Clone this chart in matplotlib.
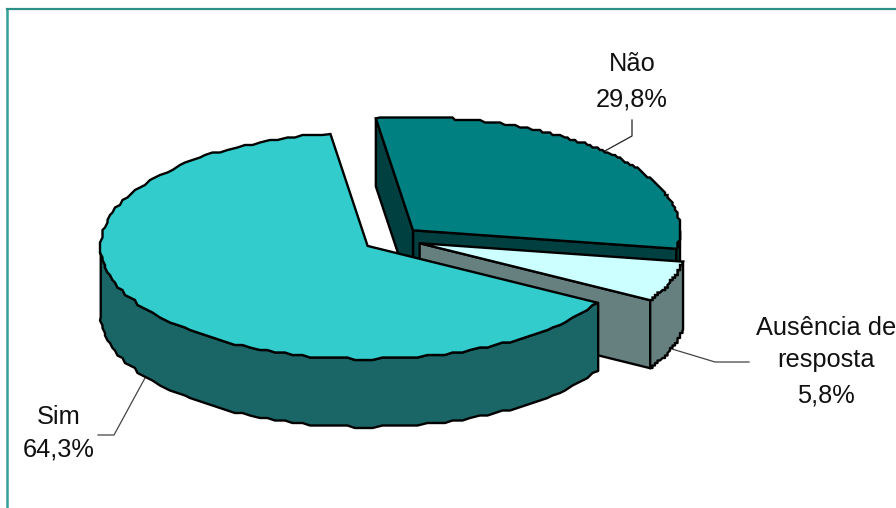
import numpy as np
import matplotlib
matplotlib.use('Agg')
import matplotlib.pyplot as plt

nomes = ['Sim', 'Ausência de\nresposta', 'Não']
valores = [64.3, 5.8, 29.8]
rotulos = ['64,3%', '5,8%', '29,8%']

cor_topo = ['#33CCCC', '#CCFFFF', '#008080']
cor_lado = ['#1A6666', '#668080', '#004040']
explode = [0.11, 0.11, 0.11]
# which cut faces can be seen (start edge, end edge)
cortes = [(False, False), (True, False), (True, True)]

# pie projection, in pixels
cx, cy = 392, 239
rx, ry = 267, 113
prof = 68
inicio = 98
degrau = 2.5

plt.rcParams['font.family'] = ['Liberation Sans', 'DejaVu Sans']

fig = plt.figure(figsize=(8.96, 5.08), dpi=100)
ax = fig.add_axes([0, 0, 1, 1])
ax.set_xlim(0, 896)
ax.set_ylim(508, 0)
ax.axis('off')

# frame
ax.plot([6.5, 6.5], [508, 8.5], color='#35A09A', lw=1.8, zorder=1)
ax.plot([6.5, 896], [8.5, 8.5], color='#2E8F88', lw=1.6, zorder=1)

# leader lines
ax.plot([632, 632, 603], [120, 136, 152], color='#222222', lw=0.9, zorder=1)
ax.plot([672, 715, 749], [349, 362, 362], color='#444444', lw=0.9, zorder=1)
ax.plot([145, 114, 98], [378, 435, 435], color='#444444', lw=0.9, zorder=1)


def ponto(c, a):
    return c[0] + rx*np.cos(np.radians(a)), c[1] - ry*np.sin(np.radians(a))


def arco(c, t):
    # the outline is stepped, snap the inner points
    px, py = ponto(c, t)
    px[1:-1] = np.round(px[1:-1]/degrau)*degrau
    py[1:-1] = np.round(py[1:-1]/degrau)*degrau
    return px, py


def parede(x, y, cor, z):
    # extrude a top outline downwards
    xs = np.concatenate([x, x[::-1]])
    ys = np.concatenate([y, y[::-1] + prof])
    ax.fill(xs, ys, facecolor=cor, edgecolor='black', lw=1.7, joinstyle='round', zorder=z)


total = sum(valores)
angulos = inicio + np.cumsum([0] + valores)*360/total
bissetriz = (angulos[:-1] + angulos[1:])/2

centros = []
for i in range(3):
    b = np.radians(bissetriz[i])
    centros.append((cx + explode[i]*rx*np.cos(b), cy - explode[i]*ry*np.sin(b)))

# back to front: Nao, Ausencia, Sim
for z, i in enumerate([2, 1, 0]):
    a0, a1 = angulos[i], angulos[i+1]
    c = centros[i]
    zz = 2 + z*3
    for a, visivel in zip([a0, a1], cortes[i]):
        if visivel:
            px, py = ponto(c, a)
            parede(np.array([c[0], px]), np.array([c[1], py]), cor_lado[i], zz)
    t = np.linspace(a0, a1, 120)
    t = t[np.sin(np.radians(t)) <= 0]
    if len(t):
        px, py = arco(c, t)
        parede(px, py, cor_lado[i], zz + 1)
    px, py = arco(c, np.linspace(a0, a1, 120))
    ax.fill(np.r_[c[0], px], np.r_[c[1], py], facecolor=cor_topo[i],
            edgecolor='black', lw=1.7, zorder=zz + 2)

# labels
pos_nome = [(59, 417), (826, 344), (632, 64)]
pos_rot = [(59, 450), (826, 395), (632, 99)]
for i in range(3):
    ax.text(pos_nome[i][0], pos_nome[i][1], nomes[i], ha='center', va='center',
            fontsize=18.3, color='#111111', linespacing=1.4, zorder=20, clip_on=True)
    ax.text(pos_rot[i][0], pos_rot[i][1], rotulos[i], ha='center', va='center',
            fontsize=18.3, color='#111111', zorder=20, clip_on=True)

fig.savefig('out.png', dpi=100)
